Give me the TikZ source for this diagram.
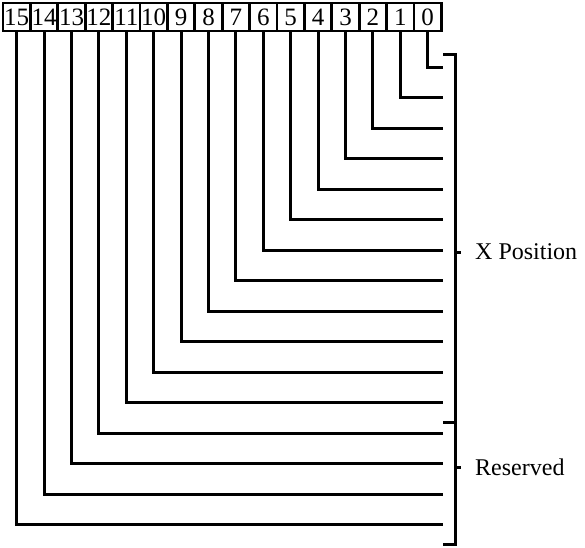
\documentclass[tikz,border=0pt]{standalone}
\usepackage{fontspec}
\setmainfont{Liberation Serif}
\tikzset{
  bitbox/.style={draw, line width=2.8pt, minimum width=27.4pt, minimum height=28pt,
    inner sep=0pt, font=\fontsize{25}{25}\selectfont},
  wire/.style={line width=3pt},
  fieldname/.style={anchor=west, inner sep=0pt, font=\fontsize{24}{24}\selectfont}
}
\begin{document}
\begin{tikzpicture}[x=1pt,y=-1pt]
\useasboundingbox (0,0) rectangle (585,547);
% bit boxes and their lines
\foreach \i in {0,...,15}{
  \node[bitbox] (b\i) at ({16.7+27.4*(15-\i)},17) {\i};
  \coordinate (e\i) at (443,{67+30.5*\i});
}
\foreach \i in {0,...,15}
  \draw[wire] (b\i.south) |- (e\i);
% brackets
\coordinate (xtop) at (443,54);
\coordinate (xsplit) at (443,422.5);
\coordinate (xbot) at (443,544);
\coordinate (xmid) at (455,252);
\coordinate (rmid) at (455,467);
\draw[wire] (xtop) -| (xbot -| xmid) -- (xbot);
\draw[wire] (xsplit) -- (xsplit -| xmid);
\draw[wire] (xmid) -- ++(6,0);
\draw[wire] (rmid) -- ++(6,0);
\node[fieldname] (xpos) at (475,252) {X Position};
\node[fieldname] (resv) at (475,467) {Reserved};
\end{tikzpicture}
\end{document}
